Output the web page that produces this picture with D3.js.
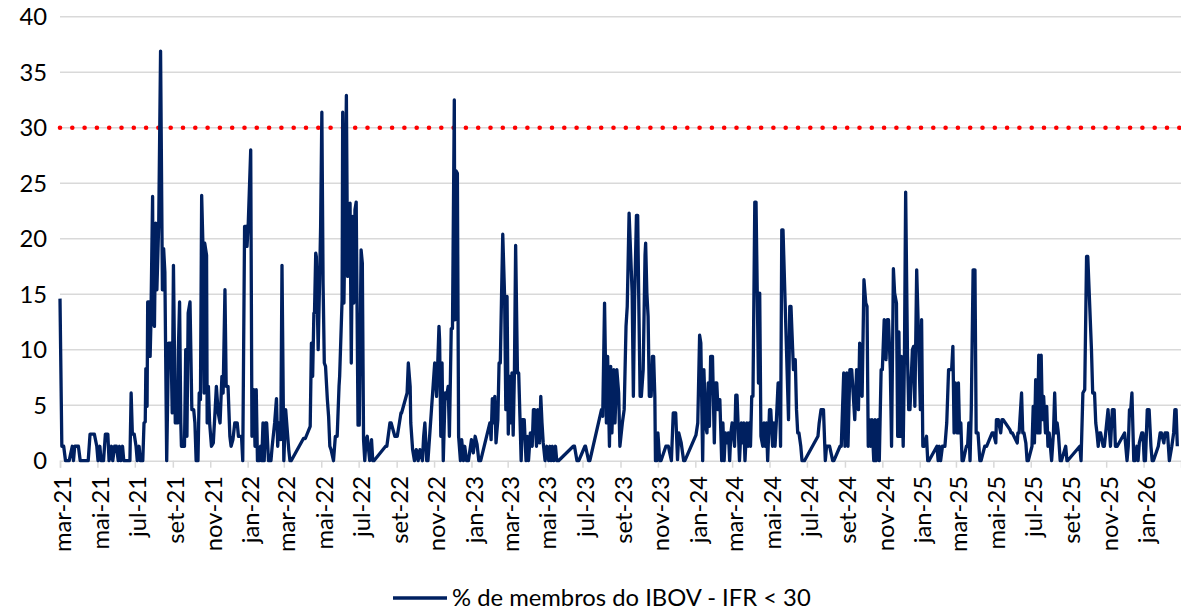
<!DOCTYPE html>
<html><head><meta charset="utf-8">
<script src="https://cdn.jsdelivr.net/npm/d3@7"></script>
<style>body{margin:0;background:#fff} svg{display:block} text{font-family:Lato,"Open Sans",sans-serif;fill:#000}</style>
</head><body><svg id="c" width="1181" height="615"></svg>
<script>
const startDate = "2021-03-01";
const endDate = "2026-03-03";
const lastTickDate = "2026-01-01";
const dayOffsets = [0,3,6,9,15,20,22,24,30,33,46,49,56,60,62,65,67,71,74,78,80,84,86,89,92,95,97,99,102,104,114,116,118,121,124,126,129,131,135,137,139,140,142,143,146,147,148,151,152,154,156,158,161,164,167,169,171,174,
177,181,183,185,188,192,193,195,197,198,203,205,207,209,212,215,218,220,222,225,227,229,231,233,235,236,239,240,242,244,247,250,253,255,258,261,264,266,269,271,274,277,279,282,285,289,291,296,298,301,304,305,307,311,313,316,318,320,322,325,327,329,331,333,335,337,340,344,346,350,353,355,357,360,362,365,368,
373,375,377,397,400,408,410,412,414,415,417,418,421,423,425,427,429,431,433,436,438,440,442,446,449,452,455,456,460,461,463,465,467,469,471,473,475,477,479,481,483,486,488,491,493,495,497,499,501,505,508,510,512,531,533,538,540,546,550,556,557,566,568,571,572,575,578,581,584,587,591,593,595,598,600,611,614,616,618,619,621,623,625,628,630,633,635,638,640,643,644,646,648,650,653,655,658,660,663,666,671,674,677,680,683,686,701,703,705,707,709,711,714,716,718,720,722,725,727,729,731,733,735,737,739,741,743,746,748,750,752,754,757,760,762,764,767,770,772,774,777,779,782,784,786,788,791,794,797,799,801,803,805,808,810,813,837,839,843,846,856,857,862,864,883,885,888,891,893,896,898,900,903,905,908,911,913,917,920,923,925,928,933,935,937,940,942,944,946,948,951,954,955,957,959,961,964,966,968,970,971,973,975,978,980,988,992,997,1000,1004,1007,1009,1013,1017,1019,1037,1040,1043,1045,1048,1050,1053,1055,1057,1059,1061,1064,1067,1069,1071,1073,1076,1079,1081,1083,1085,1088,1090,1092,1094,1096,1100,1102,1104,1108,1111,1113,1115,1117,1120,1122,1124,1126,1128,1130,1133,1135,1139,1141,1143,1146,1148,1150,1152,1154,1157,1159,1162,1164,1166,1168,1171,1173,1175,1177,1179,1188,1190,1192,1196,1199,1201,1203,1205,1208,1210,1214,1236,1238,1241,1245,1248,1250,1255,1260,1262,1272,1274,1278,1280,1283,1285,1288,1291,1296,1299,1302,1304,1306,1308,1311,1314,1316,1318,1320,1322,1324,1327,1329,1331,1334,1336,1339,1341,1344,1347,1349,1351,1354,1356,1359,1361,1364,1366,1368,1370,1372,1375,1377,1379,1382,1384,1386,1390,1392,1394,1397,1401,1403,1405,1407,1409,1413,1415,1417,1430,1432,1434,1436,1439,1443,1446,1449,1454,1456,1458,1460,1463,1465,1467,1469,1471,1473,1478,1480,1482,1484,1486,1489,1492,1494,1497,1500,1502,1508,1511,1520,1522,1526,1527,1530,1534,1536,1538,1549,1551,1553,1561,1562,1564,1568,1570,1572,1575,1577,1579,1585,1587,1589,1591,1594,1596,1598,1600,1602,1604,1607,1609,1611,1613,1615,1617,1620,1622,1624,1626,1628,1631,1633,1640,1642,1643,1663,1665,1668,1671,1674,1676,1682,1684,1687,1689,1691,1693,1695,1697,1701,1703,1709,1713,1716,1719,1721,1724,1736,1740,1742,1744,1746,1748,1751,1753,1756,1758,1760,1764,1766,1768,1770,1773,1776,1779,1781,1783,1791,1794,1796,1800,1802,1804,1806,1809,1813,1816,1818,1820,1822,1824];
const pctBelow30 = [14.6,1.3,1.3,0,0,1.3,0,1.3,1.3,0,0,2.4,2.4,1.3,0,1.3,0,0,2.4,2.4,0,1.3,0,1.3,1.3,0,1.3,0,1.3,0,0,6.1,2.4,2.4,1.3,0,1.3,0,0,3.4,3.5,8.3,4.9,14.3,14.3,9.4,11.8,23.8,12.4,12.1,21.4,15.4,21.4,36.9,15.4,19.1,17,0,
10.6,10.6,4.3,17.6,3.4,3.4,10,14.3,3.4,1.3,1.3,10,2.2,13.3,14.3,4.6,4.6,3.4,0,0,6.1,5.5,23.9,19.6,6.1,19.6,18.5,3.4,6.7,3.4,1.3,1.6,4.6,6.7,4.3,3.4,7.6,6.1,15.4,6.7,6.7,2.2,1.3,1.9,3.4,3.4,2.2,2.2,0,21.1,21.1,19.3,21.4,28,2.2,6.4,1.3,6.4,0,0,1.3,0,3.4,0,3.4,3.4,0,0,1.3,3.4,5.6,1.3,3.4,1.9,17.6,0,
4.6,1,0,0,2,2,3.1,10.6,7.6,13.3,13.3,18.7,18.4,10,15.4,21.1,31.4,16,8.8,8.5,5.5,4,1.3,1,0,2.2,2.2,6.7,7.6,14.5,31.4,14.2,22.6,32.9,16.6,19,23.2,8.8,22,14.2,22.6,23.3,3.2,3.2,19,17.8,1.9,0,1.9,2.2,0,1.9,0,0,1.3,1.3,3.4,3.4,2.2,2.2,4.3,4.3,6.1,8.8,6.7,3.4,1,0,1,0,1,0,2.2,3.4,0,0,8.8,5.8,8.8,12.1,10.9,2.2,8.8,0,6.1,5.6,6.7,2.2,11.9,11.9,32.5,12.7,26.1,25.9,2.2,0,1.9,0,1.3,0,0,1.9,0.7,2.2,1.5,0,0,3.4,1.9,5.6,3.4,5.8,1.6,3.7,8.8,8.8,14.8,20.4,14.8,4.6,14.8,2.4,7.6,3.4,7.9,2.3,7.9,19.4,7.9,7.9,4,0,3.7,3.7,0,2.2,0,2.5,1.3,4.6,4.6,1.3,4.6,1.6,5.8,3.4,1.6,0,1.3,0,1.3,0,1.3,0,1.3,0,0,1.3,1.3,0,0,1.3,1.3,0,0,4.6,4,14.2,3.4,9.4,1.3,8.5,2.5,8.2,3.4,8.2,6.1,1.3,3.4,4.6,12.1,13.9,22.3,15.1,5.8,14.5,22.1,22.1,13.6,5.8,5.8,8.2,18.5,19.6,15.1,13,5.8,5.8,9.4,9.4,5.8,0,0,2.5,0,0,1.3,1.3,0,4.3,4.3,0.1,2.5,1.6,0,0,2.3,3.4,11.3,10.6,0,8.2,3.1,2.5,7,3.1,9.4,9.4,1.6,7,7,4.6,5.5,0,3.4,0,2.5,1.6,2.5,0,2.5,3.4,1.3,5.9,5.9,0,3.4,1.6,3.4,0,3.4,1.3,3.4,1.3,5.8,5.8,23.3,23.3,7,15.1,2.2,1.3,3.4,1.3,3.4,0,4.6,4.6,1.3,3.4,1.3,3.4,7,7,1.3,20.8,20.8,3.7,13.9,13.9,8.2,9.1,4.6,2.5,2.5,1.3,0,0,2.2,3.4,4.6,4.6,0,1.3,1.3,0,0,1.3,1.3,7.9,1.3,7.9,1.3,8.2,8.2,3.7,8.2,4.6,10.6,6.1,5.8,16.3,14.2,13.9,1.3,3.7,1.3,3.7,0,3.7,0,3.7,0,8.2,8.2,12.7,9.1,12.7,12.7,8.2,1.3,17.3,15.1,14.2,2.2,11.6,2.2,9.4,1.3,9.4,24.2,9.4,4.6,4.6,10,10.3,4.9,17.2,9.1,4.6,12.7,1.3,1.3,2.2,0,0,1.3,0,1.3,0,1.3,1.3,3.4,8.2,8.2,10.3,2.5,7,2.5,7,2.5,3.4,0,0,1.3,1.3,3.4,0,4.6,17.2,17.2,2.5,2.5,0,0,1.3,1.3,2.5,2.5,1.6,3.7,3.7,2.5,3.7,3.7,2.8,2.5,2.5,1.6,2.5,2.5,6.1,2.5,2.5,1.6,0,0,1.3,4.9,1.6,7.3,2.5,9.5,2.5,9.5,3.7,5.8,2.5,4.9,1.3,2.5,1.3,0,2.5,6.1,2.5,3.4,2.5,0,0,1.3,0,0,1.3,0,6.1,6.4,18.4,18.4,10,6.1,6.1,3.4,2.5,1.3,2.5,2.5,1.3,1.3,4.6,1.3,4.6,4.6,1.3,1.3,2.5,0,1.3,4.6,4.6,6.1,0,0,1.3,0,1.6,2.5,2.5,0,0,4.6,4.6,1.3,0,0,1.3,2.5,2.5,1.6,2.5,2.5,2.5,0,1.3,2.5,4.6,4.6,1.3];
const yTicks = [0,5,10,15,20,25,30,35,40];
const monthAbbr = ["jan","fev","mar","abr","mai","jun","jul","ago","set","out","nov","dez"];
const threshold = 30;
const seriesName = "% de membros do IBOV - IFR < 30";

const navy = "#002060";
const svg = d3.select("#c");
const parse = d3.timeParse("%Y-%m-%d");
const t0 = parse(startDate), t1 = parse(endDate), tLast = parse(lastTickDate);
const data = dayOffsets.map((d,i)=>({date:d3.timeDay.offset(t0,d), v:pctBelow30[i]}));

const x = d3.scaleTime().domain([t0,t1]).range([60,1181]);
const y = d3.scaleLinear().domain([0,40]).range([460.7,16.7]);
const fs = 23.8;

svg.append("g").selectAll("line").data(yTicks.filter(v=>v>0)).join("line")
  .attr("x1",60).attr("x2",1181).attr("y1",d=>y(d)).attr("y2",d=>y(d))
  .attr("stroke","#d9d9d9").attr("stroke-width",1.5);

svg.append("g").selectAll("text").data(yTicks).join("text")
  .attr("x",47).attr("y",d=>y(d)).attr("dy","0.35em").attr("text-anchor","end")
  .style("font-size",fs+"px").text(d=>d);

const xt = d3.timeMonth.every(2).range(t0, d3.timeDay.offset(tLast,1));
const xa = svg.append("g").attr("transform","translate(0,460.7)")
  .call(d3.axisBottom(x).tickValues(xt).tickSize(7).tickFormat(""));
xa.select(".domain").attr("stroke","#d9d9d9").attr("stroke-width",1.5);
xa.selectAll(".tick line").attr("stroke","#d9d9d9").attr("stroke-width",1.5);
svg.append("g").selectAll("text").data(xt).join("text")
  .attr("transform",d=>`translate(${x(d)+3},476) rotate(-90)`)
  .attr("dy","0.35em").attr("text-anchor","end")
  .style("font-size",fs+"px")
  .text(d=>monthAbbr[d.getMonth()]+"-"+d3.timeFormat("%y")(d));

svg.append("line").attr("x1",x(t0)).attr("x2",1181).attr("y1",y(threshold)).attr("y2",y(threshold))
  .attr("stroke","#ff0000").attr("stroke-width",4.6).attr("stroke-linecap","round")
  .attr("stroke-dasharray","0 12.3");

svg.append("path").datum(data)
  .attr("d",d3.line().x(d=>x(d.date)).y(d=>y(d.v)))
  .attr("fill","none").attr("stroke",navy).attr("stroke-width",3.3).attr("stroke-linejoin","round");

svg.append("line").attr("x1",393).attr("x2",447).attr("y1",598).attr("y2",598)
  .attr("stroke",navy).attr("stroke-width",3.5);
svg.append("text").attr("x",452).attr("y",598).attr("dy","0.35em")
  .style("font-size",fs+"px").text(seriesName);
</script></body></html>
